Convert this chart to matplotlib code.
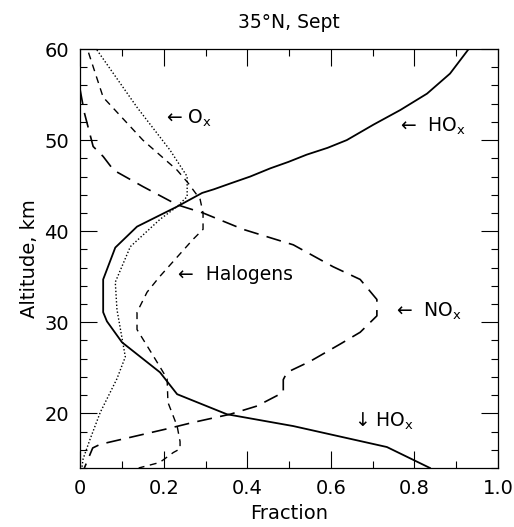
import matplotlib
matplotlib.use("Agg")
import matplotlib.pyplot as plt
from matplotlib.ticker import MultipleLocator

# HOx (solid)
hox_x = [0.933, 0.885, 0.83, 0.766, 0.702, 0.638, 0.592, 0.542, 0.498, 0.455, 0.407, 0.36,
         0.32, 0.292, 0.232, 0.136, 0.084, 0.055, 0.055, 0.064, 0.10, 0.191, 0.232, 0.351,
         0.51, 0.734, 0.837]
hox_y = [60.2, 57.3, 55.1, 53.3, 51.7, 50.0, 49.15, 48.4, 47.6, 46.9, 46.0, 45.25,
         44.6, 44.2, 42.7, 40.5, 38.2, 34.7, 31.1, 30.1, 27.8, 24.5, 22.1, 19.9,
         18.6, 16.3, 14.0]

# NOx (long dash)
nox_x = [0.0, 0.01, 0.031, 0.055, 0.08, 0.15, 0.232, 0.294, 0.39, 0.51, 0.605, 0.67, 0.71,
         0.71, 0.67, 0.622, 0.55, 0.495, 0.486, 0.486, 0.423, 0.359, 0.27, 0.208, 0.048,
         0.03, 0.01]
nox_y = [55.5, 53.0, 49.3, 48.2, 46.7, 44.9, 42.9, 42.0, 40.2, 38.5, 36.1, 34.7, 32.5,
         30.7, 28.9, 27.6, 25.7, 24.5, 23.7, 22.3, 20.8, 19.9, 19.0, 18.3, 16.6,
         16.2, 14.0]

# Halogens (short dash)
hal_x = [0.02, 0.055, 0.15, 0.232, 0.258, 0.287, 0.294, 0.294, 0.27, 0.19, 0.16, 0.136,
         0.136, 0.175, 0.208, 0.21, 0.232, 0.239, 0.239, 0.223, 0.19, 0.14]
hal_y = [59.6, 54.7, 50.0, 46.7, 45.3, 43.5, 42.0, 40.2, 39.1, 35.0, 33.3, 31.1,
         29.2, 26.3, 23.8, 21.2, 18.6, 16.9, 16.1, 15.7, 14.6, 14.0]

# Ox (dotted)
ox_x = [0.04, 0.136, 0.215, 0.256, 0.256, 0.232, 0.191, 0.12, 0.084, 0.088, 0.108,
        0.088, 0.048, 0.024, 0.007, 0.004]
ox_y = [59.9, 53.6, 48.9, 46.0, 43.8, 42.7, 41.3, 38.3, 34.4, 31.4, 26.2,
        23.8, 20.1, 17.2, 15.0, 14.0]

fig = plt.figure(figsize=(5.14, 5.27), dpi=100)
ax = fig.add_axes([0.156, 0.112, 0.813, 0.795])

ax.plot(hox_x, hox_y, color="black", lw=1.3, ls="-")
ax.plot(nox_x, nox_y, color="black", lw=1.2, ls=(0, (9, 5)))
ax.plot(hal_x, hal_y, color="black", lw=1.0, ls=(0, (5, 4)))
ax.plot(ox_x, ox_y, color="black", lw=1.0, ls=(0, (1, 1.5)))

ax.set_xlim(0, 1.0)
ax.set_ylim(14, 60)
ax.set_xticks([0, 0.2, 0.4, 0.6, 0.8, 1.0])
ax.set_xticklabels(["0", "0.2", "0.4", "0.6", "0.8", "1.0"])
ax.xaxis.set_minor_locator(MultipleLocator(0.1))
ax.yaxis.set_major_locator(MultipleLocator(10))
ax.yaxis.set_minor_locator(MultipleLocator(2))
ax.tick_params(which="both", direction="in", top=True, right=True, width=0.8, labelsize=14, pad=8)
ax.tick_params(which="major", length=12)
ax.tick_params(which="minor", length=5)
for s in ax.spines.values():
    s.set_linewidth(0.9)

ax.set_xlabel("Fraction", fontsize=14, labelpad=4)
ax.set_ylabel("Altitude, km", fontsize=14)
ax.set_title("35°N, Sept", fontsize=13.5, pad=15)

fs = 13.5
ax.text(0.205, 52.4, "← O$_\\mathregular{x}$", fontsize=fs, va="center")
ax.text(0.765, 51.5, "←  HO$_\\mathregular{x}$", fontsize=fs, va="center")
ax.text(0.235, 35.2, "←  Halogens", fontsize=fs, va="center")
ax.text(0.755, 31.2, "←  NO$_\\mathregular{x}$", fontsize=fs, va="center")
ax.text(0.655, 19.1, "↓ HO$_\\mathregular{x}$", fontsize=fs, va="center")

fig.savefig("out.png", dpi=100)
